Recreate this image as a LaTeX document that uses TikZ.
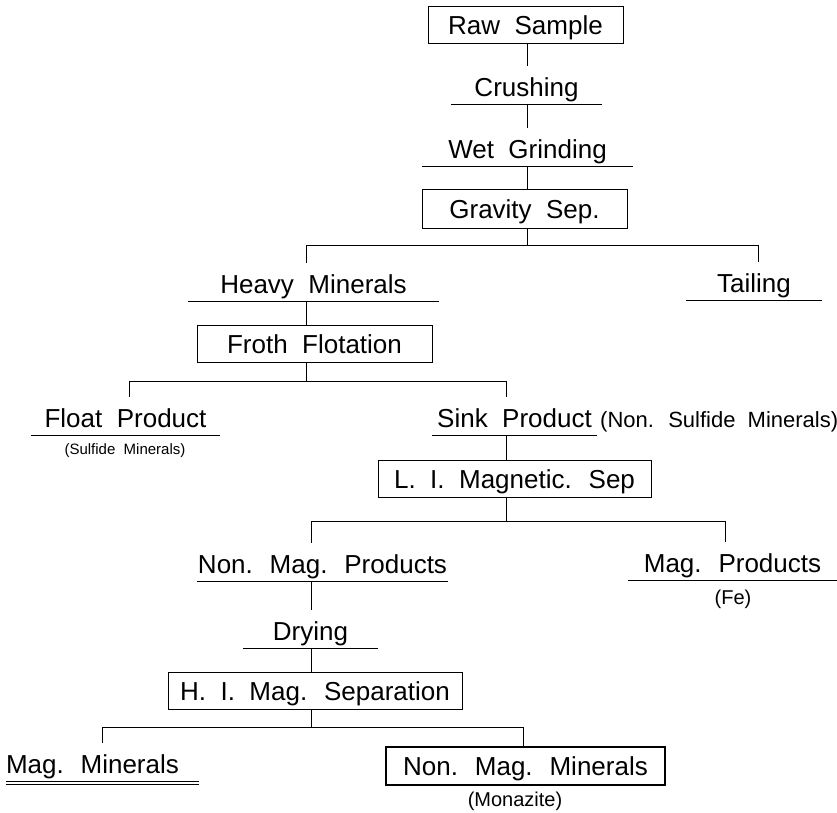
\documentclass[tikz,border=0pt]{standalone}
\usepackage{fontspec}
\setmainfont{Liberation Sans}[WordSpace=2]
\begin{document}
\begin{tikzpicture}[x=1pt,y=-1pt,
  line/.style={line width=0.8pt},
  big/.style={font=\fontsize{26}{30}\selectfont},
  lbl/.style={big, anchor=base, inner xsep=0pt, inner ysep=0pt,
    text height=30pt, text depth=8pt, minimum width=#1},
  box/.style={big, draw, line width=0.8pt, inner sep=0pt,
    text height=19pt, text depth=0pt, minimum width=#1, minimum height=37pt},
  note/.style={anchor=base, inner sep=0pt, font=\fontsize{#1}{#1}\selectfont}
]
\fill[white] (0,0) rectangle (837,812);
\useasboundingbox (0,0) rectangle (837,812);

% trunk and branch coordinates
\coordinate (t1) at (527,0);
\coordinate (t2) at (306,0);
\coordinate (t3) at (506,0);
\coordinate (t4) at (311,0);
\coordinate (b1m) at (527,245); \coordinate (b1l) at (306,245); \coordinate (b1r) at (758,245);
\coordinate (b2m) at (306,381); \coordinate (b2l) at (129,381); \coordinate (b2r) at (506,381);
\coordinate (b3m) at (506,521); \coordinate (b3l) at (311,521); \coordinate (b3r) at (725,521);
\coordinate (b4m) at (311,727); \coordinate (b4l) at (102,727); \coordinate (b4r) at (523,727);

% boxes
\node[box=195pt] (raw) at (525.5,24.5) {Raw Sample};
\node[box=205pt, minimum height=39pt] (grav) at (524.5,208.5) {Gravity Sep.};
\node[box=235pt] (froth) at (314.5,343.5) {Froth Flotation};
\node[box=273pt] (li) at (514.5,478.5) {L. I. Magnetic. Sep};
\node[box=294pt] (hi) at (315,690.5) {H. I. Mag. Separation};
\node[box=279pt, minimum height=38pt, line width=2.6pt] (nmmin) at (525.5,766) {Non. Mag. Minerals};

% underlined labels
\node[lbl=151pt] (crush) at (526.5,96) {Crushing};
\node[lbl=211pt] (wet) at (527.5,158) {Wet Grinding};
\node[lbl=251pt] (heavy) at (313.5,293) {Heavy Minerals};
\node[lbl=136pt] (tail) at (754,292) {Tailing};
\node[lbl=189pt] (float) at (125.5,427) {Float Product};
\node[lbl=165pt] (sink) at (514.5,427) {Sink Product};
\node[lbl=251pt] (nmprod) at (322.5,573) {Non. Mag. Products};
\node[lbl=209pt] (mprod) at (732.5,572) {Mag. Products};
\node[lbl=135pt] (dry) at (310.5,640) {Drying};
\node[lbl=193pt] (mmin) at (102.5,773) {\makebox[193pt][l]{Mag. Minerals}};

\foreach \n in {crush,wet,heavy,tail,float,sink,nmprod,mprod,dry,mmin}
  \draw[line] (\n.south west) -- (\n.south east);
\draw[line] ([yshift=-3.5pt]mmin.south west) -- ([yshift=-3.5pt]mmin.south east);

% notes
\node[note=15] (sulf) at (125,454) {(Sulfide Minerals)};
\node[note=22, anchor=base west] (nonsulf) at (600,427) {(Non. Sulfide Minerals)};
\node[note=20] (fe) at (733,604) {(Fe)};
\node[note=20] (monaz) at (515,806) {(Monazite)};

% connectors
\draw[line] (raw.south -| t1) -- (crush.north -| t1);
\draw[line] (crush.south -| t1) -- (wet.north -| t1);
\draw[line] (wet.south -| t1) -- (grav.north -| t1);
\draw[line] (grav.south -| t1) -- (b1m);
\draw[line] (heavy.north -| b1l) -- (b1l) -- (b1r) -- (tail.north -| b1r);
\draw[line] (heavy.south -| t2) -- (froth.north -| t2);
\draw[line] (froth.south -| t2) -- (b2m);
\draw[line] (float.north -| b2l) -- (b2l) -- (b2r) -- (sink.north -| b2r);
\draw[line] (sink.south -| t3) -- (li.north -| t3);
\draw[line] (li.south -| t3) -- (b3m);
\draw[line] (nmprod.north -| b3l) -- (b3l) -- (b3r) -- (mprod.north -| b3r);
\draw[line] (nmprod.south -| t4) -- (dry.north -| t4);
\draw[line] (dry.south -| t4) -- (hi.north -| t4);
\draw[line] (hi.south -| t4) -- (b4m);
\draw[line] (mmin.north -| b4l) -- (b4l) -- (b4r) -- (nmmin.north -| b4r);
\end{tikzpicture}
\end{document}
